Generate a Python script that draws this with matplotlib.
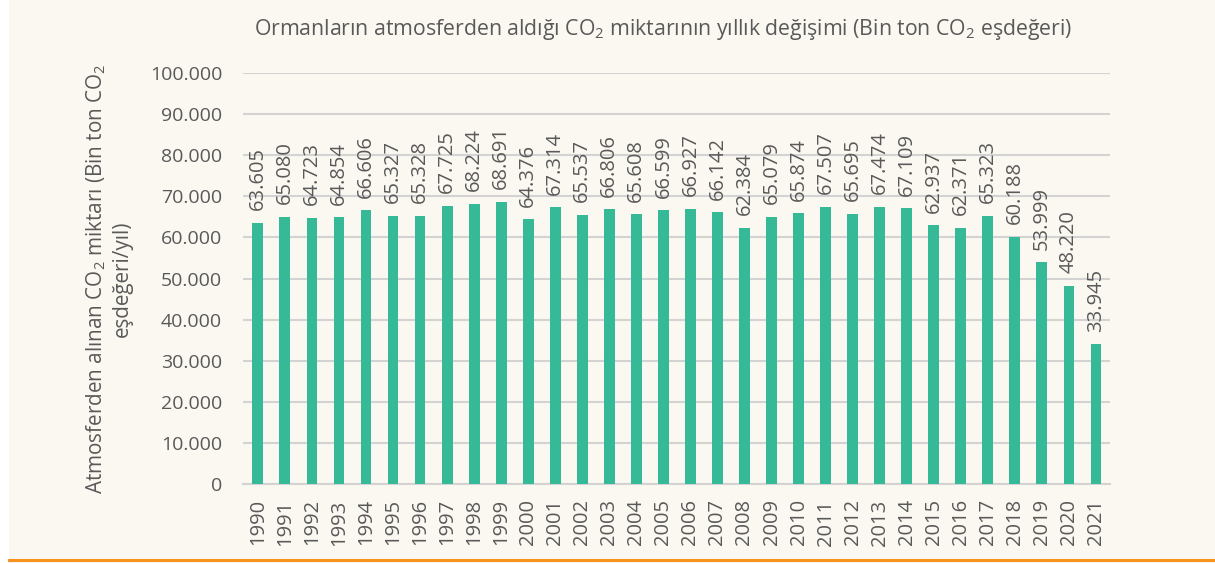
import matplotlib
matplotlib.use("Agg")
import matplotlib.pyplot as plt
from matplotlib.patches import Rectangle
from matplotlib.lines import Line2D

# Chart data
years = [str(y) for y in range(1990, 2022)]
values = [63605, 65080, 64723, 64854, 66606, 65327, 65328, 67725, 68224, 68691,
          64376, 67314, 65537, 66806, 65608, 66599, 66927, 66142, 62384, 65079,
          65874, 67507, 65695, 67474, 67109, 62937, 62371, 65323, 60188, 53999,
          48220, 33945]
yticks = list(range(0, 100001, 10000))

plt.rcParams["font.family"] = ["Open Sans", "DejaVu Sans"]
plt.rcParams["mathtext.fontset"] = "custom"
plt.rcParams["mathtext.rm"] = "Open Sans"
plt.rcParams["mathtext.it"] = "Open Sans:italic"

bg = "#FBF8F1"
bar_color = "#36B996"
text_color = "#595959"
grid_color = "#D3D3D3"


def fmt(v):
    return f"{v:,}".replace(",", ".")


fig = plt.figure(figsize=(12.15, 5.63), dpi=100)
fig.patch.set_facecolor(bg)
# white strip on the left and orange bottom line
fig.patches.append(Rectangle((0, 0), 9 / 1215, 1, transform=fig.transFigure,
                             facecolor="white", edgecolor="none", zorder=-1))
fig.lines.append(Line2D([9 / 1215, 1], [3 / 563, 3 / 563], transform=fig.transFigure,
                        color="#F7931E", linewidth=2.2))

ax = fig.add_axes([243 / 1215, 1 - 484 / 563, (1110 - 243) / 1215, (484 - 73) / 563])
ax.set_facecolor(bg)

x = list(range(len(years)))
ax.bar(x, values, width=0.4, color=bar_color, zorder=3)

for xi, v in zip(x, values):
    ax.annotate(fmt(v), (xi, v), xytext=(0, 9), textcoords="offset points",
                rotation=90, ha="center", va="bottom", fontsize=14.5, color=text_color)

ax.set_xlim(-0.55, len(years) - 0.48)
ax.set_ylim(0, 100000)
ax.set_yticks(yticks)
ax.set_yticklabels([fmt(t) for t in yticks], fontsize=14, color=text_color)
ax.set_xticks(x)
ax.set_xticklabels(years, rotation=90, fontsize=14.5, color=text_color)
ax.tick_params(axis="both", length=0)
ax.tick_params(axis="y", pad=15)
ax.tick_params(axis="x", pad=11)

ax.grid(axis="y", color=grid_color, linewidth=1.5, zorder=0)
for s in ["top", "right", "left"]:
    ax.spines[s].set_visible(False)
ax.spines["bottom"].set_color(grid_color)
ax.spines["bottom"].set_linewidth(1.5)

ax.set_ylabel("Atmosferden alınan CO$_2$ miktarı (Bin ton CO$_2$\neşdeğeri/yıl)",
              fontsize=14.9, color=text_color, labelpad=12, linespacing=1.25)
fig.text(663 / 1215, 1 - 30 / 563,
         "Ormanların atmosferden aldığı CO$_2$ miktarının yıllık değişimi (Bin ton CO$_2$ eşdeğeri)",
         ha="center", va="center", fontsize=15.3, color=text_color)

plt.savefig("out.png", dpi=100, facecolor=fig.get_facecolor())
